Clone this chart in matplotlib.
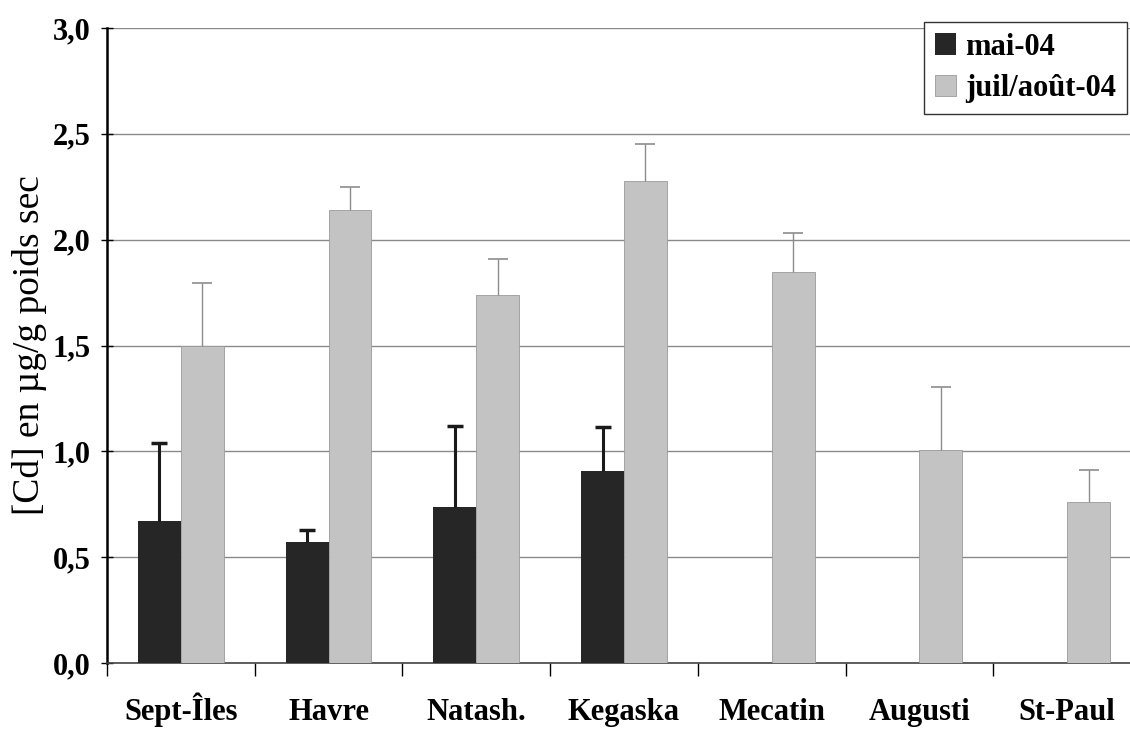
import numpy as np
import matplotlib
matplotlib.use("Agg")
import matplotlib.pyplot as plt

# data
sites = ['Sept-Îles', 'Havre', 'Natash.', 'Kegaska', 'Mecatin', 'Augusti', 'St-Paul']
mai = [0.67, 0.57, 0.735, 0.905, np.nan, np.nan, np.nan]
mai_err = [0.37, 0.06, 0.385, 0.21, np.nan, np.nan, np.nan]
juil = [1.50, 2.14, 1.74, 2.275, 1.845, 1.005, 0.76]
juil_err = [0.295, 0.11, 0.17, 0.175, 0.185, 0.30, 0.15]
yticks = [0.0, 0.5, 1.0, 1.5, 2.0, 2.5, 3.0]
ytick_labels = ['0,0', '0,5', '1,0', '1,5', '2,0', '2,5', '3,0']

plt.rcParams['font.family'] = ['Liberation Serif', 'DejaVu Serif']

fig = plt.figure(figsize=(11.3, 7.29), dpi=100)
ax = fig.add_axes([107 / 1130, 1 - 663 / 729, (1141 - 107) / 1130, (663 - 28) / 729])

x = np.arange(len(sites))
w = 0.29
dark = '#262626'
light = '#c3c3c3'

ax.bar(x - w / 2, mai, w, color=dark, label='mai-04', zorder=3)
ax.bar(x + w / 2, juil, w, color=light, edgecolor='#9a9a9a', linewidth=0.6,
       label='juil/août-04', zorder=3)

# one-sided error bars (upper only) -> hide the lower caps
m_ok = ~np.isnan(np.array(mai))
eb1 = ax.errorbar((x - w / 2)[m_ok], np.array(mai)[m_ok],
                  yerr=[np.zeros(m_ok.sum()), np.array(mai_err)[m_ok]],
                  fmt='none', ecolor='#1a1a1a', elinewidth=2.2, capsize=6, capthick=2.5, zorder=4)
eb2 = ax.errorbar(x + w / 2, juil, yerr=[np.zeros(len(juil)), juil_err],
                  fmt='none', ecolor='#8c8c8c', elinewidth=1.0, capsize=7, capthick=1.2, zorder=4)
eb1[1][0].set_visible(False)
eb2[1][0].set_visible(False)

ax.set_xlim(-0.5, len(sites) - 0.5)
ax.set_ylim(0, 3.0)
ax.set_yticks(yticks)
ax.set_yticklabels(ytick_labels, fontsize=22, fontweight='bold')
ax.set_xticks(x)
ax.set_xticklabels(sites, fontsize=22, fontweight='bold', va='baseline')
# category separators as ticks
ax.set_xticks(np.arange(len(sites) + 1) - 0.5, minor=True)
ax.tick_params(axis='x', which='major', length=0, pad=41)
ax.tick_params(axis='x', which='minor', length=9, width=1, direction='out')
ax.tick_params(axis='y', length=8, width=1, direction='inout', pad=8)

ax.grid(axis='y', color='#8a8a8a', linewidth=1.0, zorder=0)
ax.set_axisbelow(True)
for s in ['top', 'right']:
    ax.spines[s].set_visible(False)
ax.spines['left'].set_linewidth(1.8)
ax.spines['bottom'].set_linewidth(1.2)
ax.spines['bottom'].set_color('#444444')

ax.set_ylabel('[Cd] en µg/g poids sec', fontsize=27, labelpad=4)

leg = ax.legend(loc='upper right', bbox_to_anchor=(1127 / 1130, 1 - 22 / 729),
                bbox_transform=fig.transFigure, fancybox=False, framealpha=1,
                edgecolor='#333333', prop={'size': 22, 'weight': 'bold'},
                handlelength=0.7, handleheight=0.7, handletextpad=0.3,
                labelspacing=0.4, borderpad=0.35, borderaxespad=0)
leg.get_frame().set_linewidth(1.0)

fig.savefig('out.png', dpi=100)
